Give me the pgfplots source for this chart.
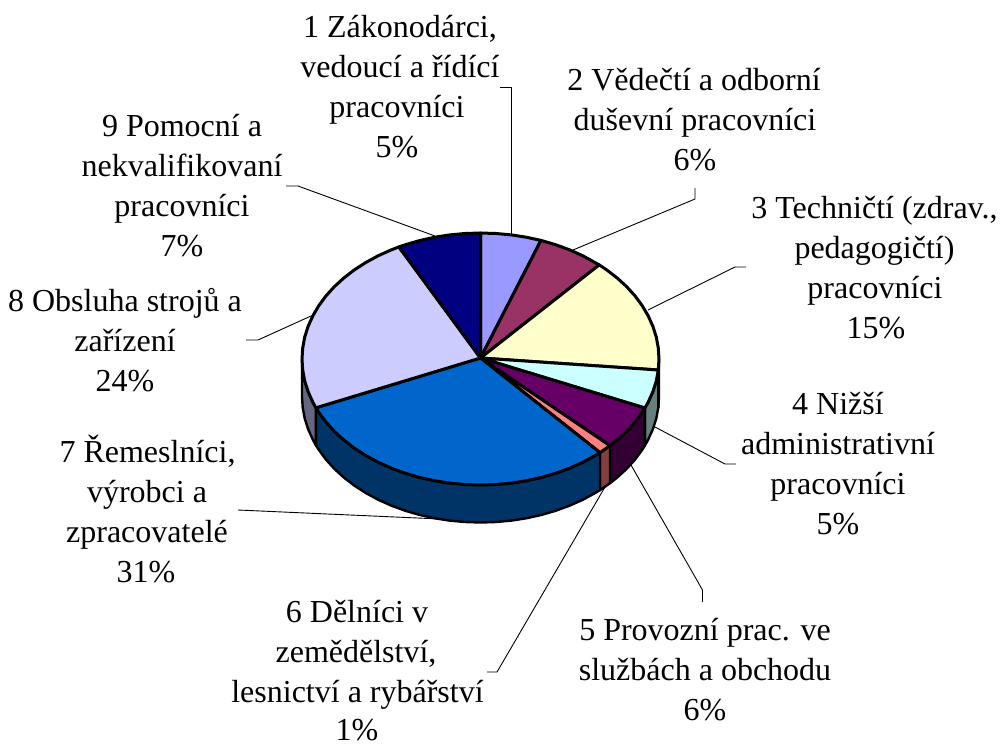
\documentclass[border=0pt]{standalone}
\usepackage{pgfplots}
\pgfplotsset{compat=1.18}
\usepackage{fontspec}
\setmainfont{Liberation Serif}
\definecolor{c1}{HTML}{9999FF}
\definecolor{c2}{HTML}{993366}
\definecolor{c3}{HTML}{FFFFCC}
\definecolor{c4}{HTML}{CCFFFF}
\definecolor{c5}{HTML}{660066}
\definecolor{c6}{HTML}{FF8080}
\definecolor{c7}{HTML}{0066CC}
\definecolor{c8}{HTML}{CCCCFF}
\definecolor{c9}{HTML}{000080}
\definecolor{w3}{HTML}{808066}
\definecolor{w4}{HTML}{668080}
\definecolor{w5}{HTML}{330033}
\definecolor{w6}{HTML}{804040}
\definecolor{w7}{HTML}{003366}
\definecolor{w8}{HTML}{666680}
\begin{document}
\begin{tikzpicture}
\begin{axis}[
  scale only axis, width=1002pt, height=745pt,
  xmin=0, xmax=1002, ymin=0, ymax=745, y dir=reverse,
  axis lines=none, clip=false, ticks=none,
  every axis plot/.append style={line join=round, mark=none},
]
\path (axis cs:0,0) rectangle (axis cs:1002,745);
% leader lines
\addplot[black, line width=0.9pt] coordinates {(500,87)(511.5,87)(511.5,236)};
\addplot[black, line width=0.9pt] coordinates {(695,188)(695,199)(573,250)};
\addplot[black, line width=0.9pt] coordinates {(746,267)(735,267)(648,310)};
\addplot[black, line width=0.9pt] coordinates {(736,464)(725,464)(655,427)};
\addplot[black, line width=0.9pt] coordinates {(702.5,602)(702.5,590)(631,465)};
\addplot[black, line width=0.9pt] coordinates {(487,672)(497,672)(605,487)};
\addplot[black, line width=0.9pt] coordinates {(238,510)(440,519)};
\addplot[black, line width=0.9pt] coordinates {(246,340)(258,340)(311,316)};
\addplot[black, line width=0.9pt] coordinates {(286,186)(298,186)(435,236)};
% side walls
\addplot[fill=w3, draw=black, line width=2.4pt] coordinates {(659,359)(658.3,370)(658.3,407.5)(659,396.5)} -- cycle;
\addplot[fill=w4, draw=black, line width=2.4pt] coordinates {(658.3,370)(656.3,380.9)(652.9,391.6)(648.2,402.1)(644.9,408)(644.9,445.5)(648.2,439.6)(652.9,429.1)(656.3,418.4)(658.3,407.5)} -- cycle;
\addplot[fill=w5, draw=black, line width=2.4pt] coordinates {(644.9,408)(642.3,412.2)(635.1,422)(626.7,431.3)(617.2,440)(610,445.7)(610,483.2)(617.2,477.5)(626.7,468.8)(635.1,459.5)(642.3,449.7)(644.9,445.5)} -- cycle;
\addplot[fill=w6, draw=black, line width=2.4pt] coordinates {(610,445.7)(600,452.6)(600,490.1)(610,483.2)} -- cycle;
\addplot[fill=w7, draw=black, line width=2.4pt] coordinates {(600,452.6)(595.2,455.5)(582.9,462.2)(569.75,468.1)(555.9,473.2)(541.5,477.4)(526.7,480.7)(511.5,483.1)(496.1,484.5)(480.5,485)(464.9,484.5)(449.5,483.1)(434.3,480.7)(419.5,477.4)(405.1,473.2)(391.25,468.1)(378.1,462.2)(365.8,455.5)(354.3,448.1)(343.8,440)(334.3,431.3)(325.9,422)(318.7,412.2)(315.9,407.8)(315.9,445.3)(318.7,449.7)(325.9,459.5)(334.3,468.8)(343.8,477.5)(354.3,485.6)(365.8,493)(378.1,499.7)(391.25,505.6)(405.1,510.7)(419.5,514.9)(434.3,518.2)(449.5,520.6)(464.9,522)(480.5,522.5)(496.1,522)(511.5,520.6)(526.7,518.2)(541.5,514.9)(555.9,510.7)(569.75,505.6)(582.9,499.7)(595.2,493)(600,490.1)} -- cycle;
\addplot[fill=w8, draw=black, line width=2.4pt] coordinates {(315.9,407.8)(312.8,402.1)(308.1,391.6)(304.7,380.9)(302.7,370)(302,359)(302,396.5)(302.7,407.5)(304.7,418.4)(308.1,429.1)(312.8,439.6)(315.9,445.3)} -- cycle;
% top face
\addplot[fill=c1, draw=black, line width=3pt] coordinates {(480.5,358)(480.5,233)(496.1,233.5)(511.5,234.9)(526.7,237.3)(541,240.4)} -- cycle;
\addplot[fill=c2, draw=black, line width=3pt] coordinates {(480.5,358)(541,240.4)(555.9,244.8)(569.75,249.9)(582.9,255.8)(599.2,264.9)} -- cycle;
\addplot[fill=c3, draw=black, line width=3pt] coordinates {(480.5,358)(599.2,264.9)(606.7,269.9)(617.2,278)(626.7,286.7)(635.1,296)(642.3,305.8)(648.2,315.9)(652.9,326.4)(656.3,337.1)(658.3,348)(659,359)(658.3,370)} -- cycle;
\addplot[fill=c4, draw=black, line width=3pt] coordinates {(480.5,358)(658.3,370)(656.3,380.9)(652.9,391.6)(648.2,402.1)(644.9,408)} -- cycle;
\addplot[fill=c5, draw=black, line width=3pt] coordinates {(480.5,358)(644.9,408)(642.3,412.2)(635.1,422)(626.7,431.3)(617.2,440)(610,445.7)} -- cycle;
\addplot[fill=c6, draw=black, line width=3pt] coordinates {(480.5,358)(610,445.7)(600,452.6)} -- cycle;
\addplot[fill=c7, draw=black, line width=3pt] coordinates {(480.5,358)(600,452.6)(595.2,455.5)(582.9,462.2)(569.75,468.1)(555.9,473.2)(541.5,477.4)(526.7,480.7)(511.5,483.1)(496.1,484.5)(480.5,485)(464.9,484.5)(449.5,483.1)(434.3,480.7)(419.5,477.4)(405.1,473.2)(391.25,468.1)(378.1,462.2)(365.8,455.5)(354.3,448.1)(343.8,440)(334.3,431.3)(325.9,422)(318.7,412.2)(315.9,407.8)} -- cycle;
\addplot[fill=c8, draw=black, line width=3pt] coordinates {(480.5,358)(315.9,407.8)(312.8,402.1)(308.1,391.6)(304.7,380.9)(302.7,370)(302,359)(302.7,348)(304.7,337.1)(308.1,326.4)(312.8,315.9)(318.7,305.8)(325.9,296)(334.3,286.7)(343.8,278)(354.3,269.9)(365.8,262.5)(378.1,255.8)(391.25,249.9)(398.9,246.9)} -- cycle;
\addplot[fill=c9, draw=black, line width=3pt] coordinates {(480.5,358)(398.9,246.9)(405.1,244.8)(419.5,240.6)(434.3,237.3)(449.5,234.9)(464.9,233.5)(480.5,233)} -- cycle;
% labels
\tikzset{lb/.style={anchor=base, inner sep=0pt, font=\fontsize{32}{38}\selectfont}}
\node[lb] at (axis cs:400,37) {1 Zákonodárci,};
\node[lb] at (axis cs:400,77) {vedoucí a řídící};
\node[lb] at (axis cs:397,117) {pracovníci};
\node[lb] at (axis cs:397,157) {5\%};
\node[lb] at (axis cs:694,90) {2 Vědečtí a odborní};
\node[lb] at (axis cs:695,130) {duševní pracovníci};
\node[lb] at (axis cs:695,170) {6\%};
\node[lb] at (axis cs:874.5,218) {3 Techničtí (zdrav.,};
\node[lb] at (axis cs:874.5,258) {pedagogičtí)};
\node[lb] at (axis cs:875,298) {pracovníci};
\node[lb] at (axis cs:876,338) {15\%};
\node[lb] at (axis cs:838,414) {4 Nižší};
\node[lb] at (axis cs:838,454) {administrativní};
\node[lb] at (axis cs:838,494) {pracovníci};
\node[lb] at (axis cs:838,534) {5\%};
\node[lb] at (axis cs:705,640) {5 Provozní prac. ve};
\node[lb] at (axis cs:705,680) {službách a obchodu};
\node[lb] at (axis cs:705,720) {6\%};
\node[lb] at (axis cs:357,622) {6 Dělníci v};
\node[lb] at (axis cs:356,662) {zemědělství,};
\node[lb] at (axis cs:357.5,702) {lesnictví a rybářství};
\node[lb] at (axis cs:357,740) {1\%};
\node[lb] at (axis cs:147.5,462) {7 Řemeslníci,};
\node[lb] at (axis cs:147,502) {výrobci a};
\node[lb] at (axis cs:147,542) {zpracovatelé};
\node[lb] at (axis cs:146,582) {31\%};
\node[lb] at (axis cs:125,311) {8 Obsluha strojů a};
\node[lb] at (axis cs:125,351) {zařízení};
\node[lb] at (axis cs:125,391) {24\%};
\node[lb] at (axis cs:182,136) {9 Pomocní a};
\node[lb] at (axis cs:182,176) {nekvalifikovaní};
\node[lb] at (axis cs:182,216) {pracovníci};
\node[lb] at (axis cs:182,256) {7\%};
\end{axis}
\end{tikzpicture}
\end{document}
